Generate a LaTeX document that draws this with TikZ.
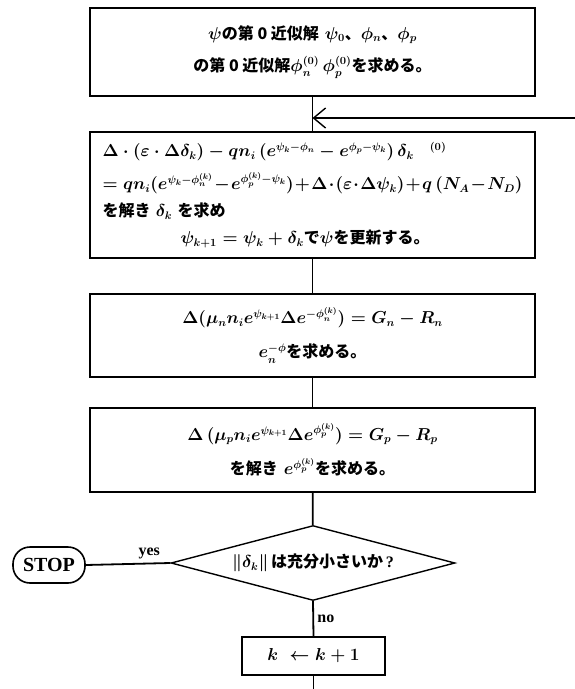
\documentclass[tikz,border=0pt]{standalone}
\usepackage{fontspec}
\usepackage{amsmath}
\newfontfamily\jpfont{Noto Sans CJK JP}
\newfontfamily\tagfont{Liberation Serif}
\newcommand{\jtext}[1]{{\jpfont #1}}
\usetikzlibrary{shapes,arrows.meta,positioning,calc}

\tikzset{
  procbox/.style={draw, line width=1.4pt, minimum width=445pt, inner sep=0pt,
    font=\fontsize{16}{20}\selectfont\bfseries\boldmath},
  flowline/.style={line width=1.8pt},
  decision/.style={draw, diamond, line width=1.4pt, minimum width=284pt,
    minimum height=75pt, inner sep=0pt},
  terminal/.style={draw, rectangle, rounded corners=17pt, line width=1.6pt,
    minimum width=72pt, minimum height=36pt, inner sep=0pt,
    font=\tagfont\fontsize{20}{22}\selectfont\bfseries},
  answer/.style={font=\tagfont\fontsize{16}{18}\selectfont\bfseries}
}

\begin{document}
\begin{tikzpicture}[x=1pt,y=1pt]
\useasboundingbox (0,0) rectangle (575,-689);

% Initial guess
\node[procbox, minimum height=88pt, align=center] (init) at (312.5,-52)
  {$\psi$\jtext{の第 0 近似解} $\psi_0$\jtext{、}$\phi_n$\jtext{、}$\phi_p$\\[12pt]
   \jtext{の第 0 近似解}$\phi_n^{(0)}\,\phi_p^{(0)}$\jtext{を求める。}};

% Poisson equation
\node[procbox, minimum height=126pt, text width=420pt, inner xsep=12pt, align=left] (poisson) at (312.5,-195)
  {$\Delta\cdot(\varepsilon\cdot\Delta\delta_k)-qn_i\,(e^{\psi_k-\phi_n}-e^{\phi_p-\psi_k})\,\delta_k\quad{}^{(0)}$\\[11pt]
   $=qn_i(e^{\psi_k-\phi_n^{(k)}}-e^{\phi_p^{(k)}-\psi_k})+\Delta\cdot(\varepsilon\cdot\Delta\psi_k)+q\,(N_A-N_D)$\\[7pt]
   \jtext{を解き} $\delta_k$ \jtext{を求め}\\[7pt]
   \hspace*{78pt}$\psi_{k+1}=\psi_k+\delta_k$\jtext{で}$\psi$\jtext{を更新する。}};

% Electron continuity
\node[procbox, minimum height=83pt, align=center] (electron) at (312.5,-335.5)
  {$\Delta(\mu_n n_i e^{\psi_{k+1}}\Delta e^{-\phi_n^{(k)}})=G_n-R_n$\\[14pt]
   $e_n^{-\phi}$\jtext{を求める。}};

% Hole continuity
\node[procbox, minimum height=84pt, align=center] (hole) at (312.5,-450)
  {$\Delta\,(\mu_p n_i e^{\psi_{k+1}}\Delta e^{\phi_p^{(k)}})=G_p-R_p$\\[12pt]
   \jtext{を解き} $e^{\phi_p^{(k)}}$\jtext{を求める。}};

% Convergence test
\node[decision, label={[font=\fontsize{16}{20}\selectfont\bfseries\boldmath]center:{$\|\delta_k\|$\,\jtext{は充分小さいか}\,{\tagfont ?}}}] (check) at (313,-563) {};
\node[terminal] (stop) at (49,-565) {STOP};
\node[procbox, minimum width=143pt, minimum height=38pt] (next) at (313.5,-656) {$k\ \leftarrow k+1$};

\coordinate (loopin) at (575,-118);
\coordinate (tail) at (313.5,-689);

% Connections
\draw[flowline] (init) -- (poisson);
\draw[flowline, -{Straight Barb[length=12pt,width=20pt,line width=1.4pt]}] (loopin) -- (loopin -| init.south);
\draw[flowline] (poisson) -- (electron);
\draw[flowline] (electron) -- (hole);
\draw[flowline] (hole) -- (check);
\draw[flowline] (check.west) -- node[answer, above, pos=0.25]{yes} (stop.east);
\draw[flowline] (check.south) -- node[answer, right]{no} (next.north);
\draw[flowline] (next) -- (tail);

\end{tikzpicture}
\end{document}
